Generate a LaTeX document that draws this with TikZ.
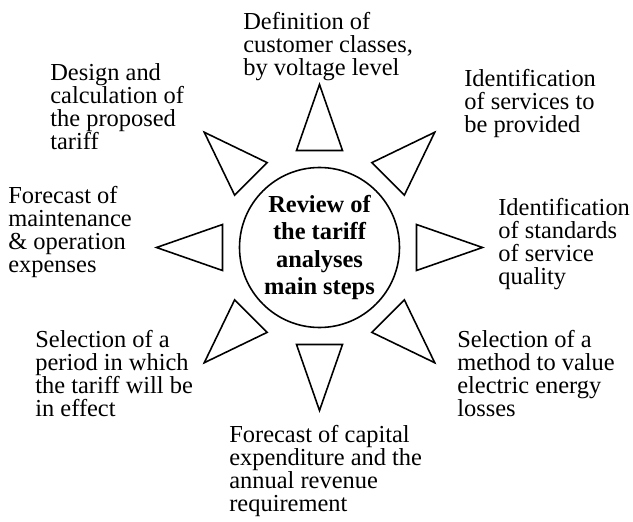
\documentclass[tikz,border=0pt]{standalone}
\usepackage{fontspec}
\setmainfont{Liberation Serif}

\tikzset{
  steptext/.style={anchor=north west, align=left, inner sep=0pt, font=\fontsize{13.9}{13.1}\selectfont},
  hub/.style={draw, circle, minimum size=3.2cm, inner sep=0pt, line width=0.9pt, align=center, font=\fontsize{13.9}{15.4}\selectfont\bfseries},
  ray/.style={line width=0.9pt, line join=miter}
}

\begin{document}
\begin{tikzpicture}
\useasboundingbox (0,0) rectangle (12.66,10.44);

\node[hub] (hub) at (6.39,5.49) {Review of\\the tariff\\analyses\\main steps};

% eight rays round the hub
\foreach \a in {0,45,...,315}
  \draw[ray, shift={(hub.center)}, rotate=\a] (3.26,0) -- (1.94,0.46) -- (1.94,-0.46) -- cycle;

\node[steptext] (classes) at (4.86,10.20) {Definition of\\customer classes,\\by voltage level};
\node[steptext] (services) at (9.28,9.06) {Identification\\of services to\\be provided};
\node[steptext] (quality) at (9.96,6.48) {Identification\\of standards\\of service\\quality};
\node[steptext] (losses) at (9.14,3.85) {Selection of a\\method to value\\electric energy\\losses};
\node[steptext] (capex) at (4.58,1.94) {Forecast of capital\\expenditure and the\\annual revenue\\requirement};
\node[steptext] (period) at (0.70,3.85) {Selection of a\\period in which\\the tariff will be\\in effect};
\node[steptext] (opex) at (0.16,6.72) {Forecast of\\maintenance\\\& operation\\expenses};
\node[steptext] (design) at (1.00,9.18) {Design and\\calculation of\\the proposed\\tariff};

\end{tikzpicture}
\end{document}
